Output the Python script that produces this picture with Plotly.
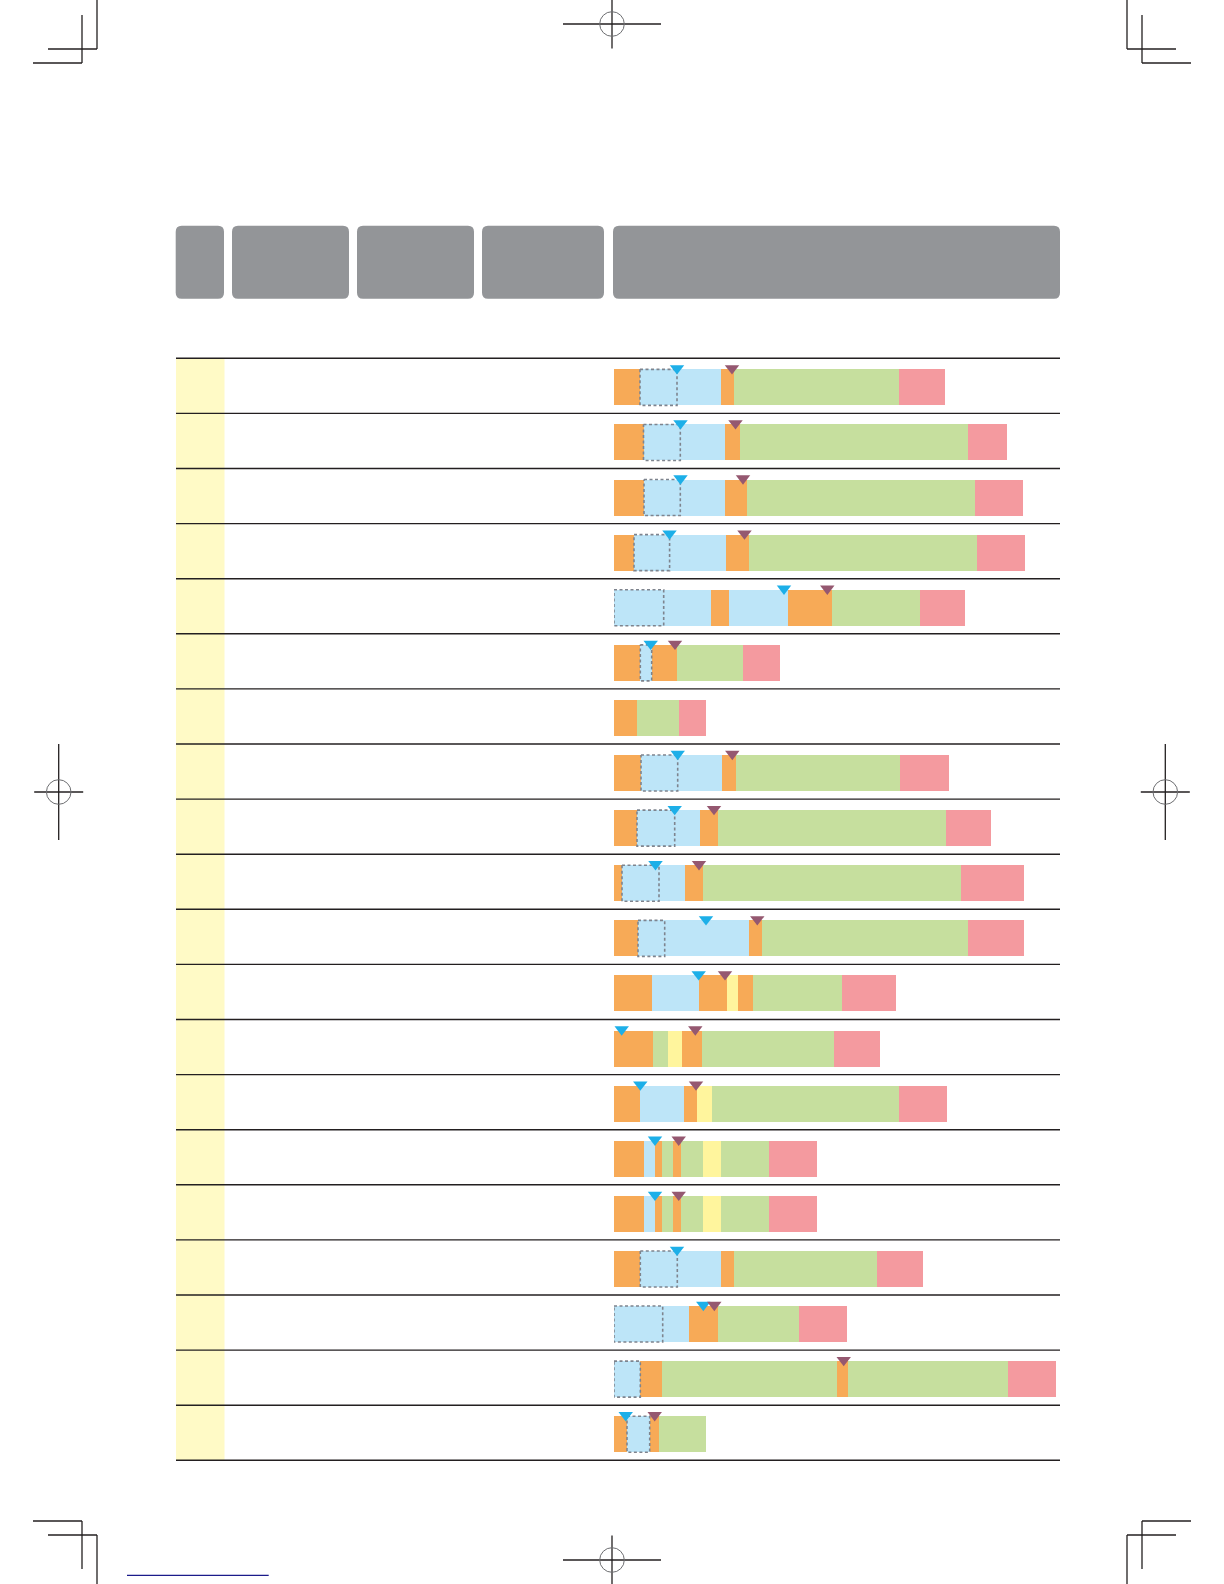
import plotly.graph_objects as go

W, H = 1224, 1584

# ---------------- data ----------------
rows = [f"Row {i + 1}" for i in range(20)]

COLORS = {"O": "#F7AA57", "B": "#BDE5F8", "G": "#C6DF9E", "R": "#F49A9F", "Y": "#FFF59D"}

row_segments = [
    "OBOGR", "OBOGR", "OBOGR", "OBOGR", "BOBOGR", "OBOGR", "OGR", "OBOGR", "OBOGR", "OBOGR",
    "OBOGR", "OBOYOGR", "OGYOGR", "OBOYGR", "OBOGOGYGR", "OBOGOGYGR", "OBOGR", "BOGR", "BOGOGR", "OBOG",
]
row_durations = [
    [26, 80.5, 13.5, 165, 46],
    [29.5, 81.5, 15, 228, 39],
    [30, 81, 22, 228, 48],
    [20, 92, 22.5, 228.5, 47.5],
    [97, 18, 59, 44, 88, 45],
    [26.3, 11.4, 25.6, 65.7, 37],
    [23, 42, 27],
    [27, 81, 13.5, 164.5, 49],
    [23, 63, 18, 228, 45],
    [8, 63, 18, 258, 62.7],
    [24, 111, 13, 206, 55.7],
    [38, 47, 28, 11, 15, 89, 53.7],
    [39, 15, 14, 20, 132, 45.7],
    [26, 44, 13, 15, 187, 48],
    [30, 11, 7, 11, 8, 22, 18, 48, 48],
    [30, 11, 7, 11, 8, 22, 18, 48, 48],
    [26.3, 80.7, 13, 143, 46],
    [75, 29, 81, 48],
    [26.3, 21.7, 175, 11, 160, 48],
    [13, 22.7, 9, 47.3],
]
dash_start = [26, 29.5, 30, 20, 0, 26.3, None, 27, 23, 8, 24, None, None, None, None, None, 26.3, 0, 0, 13]
dash_end = [63, 66.3, 66.3, 55.6, 49.7, 37.7, None, 63.7, 60.7, 45, 50.7, None, None, None, None, None, 63.3, 48.7, 26.3, 35.7]
blue_mark = [63, 66.5, 66.5, 55.5, 170, 36.7, None, 63.7, 60.7, 41.5, 92, 84.7, 7.7, 26.3, 41, 41, 63, 89.3, None, 11.7]
purple_mark = [118, 121.5, 129, 130.5, 213.3, 61, None, 118.3, 100, 85, 143.3, 111, 81.3, 82, 64.7, 64.7, None, 100.3, 229.7, 40.7]

# ---------------- layout helpers ----------------
def px(x):
    return x / W


def py(y):
    return 1 - y / H


LINE = "#231F20"
ROW_TOP, ROW_BOTTOM = 358.3, 1460.3
BAR_W = 0.653
idx = list(range(len(rows)))

fig = go.Figure()

# stacked segments
nseg = max(len(s) for s in row_segments)
for k in range(nseg):
    xs, cols = [], []
    for i in idx:
        if k < len(row_durations[i]):
            xs.append(row_durations[i][k])
            cols.append(COLORS[row_segments[i][k]])
        else:
            xs.append(0)
            cols.append("rgba(0,0,0,0)")
    fig.add_trace(go.Bar(
        y=idx, x=xs, orientation="h", width=BAR_W,
        marker=dict(color=cols, line=dict(width=0)),
        showlegend=False, hoverinfo="skip",
    ))

# dashed boxes
hw = BAR_W / 2
bx, by = [], []
for i in idx:
    if dash_start[i] is None:
        continue
    s, e = dash_start[i], dash_end[i]
    bx += [s, e, e, s, s, None]
    by += [i - hw, i - hw, i + hw, i + hw, i - hw, None]
fig.add_trace(go.Scatter(
    x=bx, y=by, mode="lines",
    line=dict(color="#7E848E", width=1.6, dash="3px,2.5px"),
    showlegend=False, hoverinfo="skip",
))

# triangle markers
for marks, col in ((blue_mark, "#1DAFE8"), (purple_mark, "#955870")):
    mx = [m for m in marks if m is not None]
    my = [i - hw - 0.02 for i, m in zip(idx, marks) if m is not None]
    fig.add_trace(go.Scatter(
        x=mx, y=my, mode="markers",
        marker=dict(symbol="triangle-down", size=12.5, color=col, line=dict(width=0)),
        showlegend=False, hoverinfo="skip",
    ))

shapes = []


def line(x0, y0, x1, y1, color=LINE, width=1.3):
    shapes.append(dict(type="line", xref="paper", yref="paper",
                       x0=px(x0), y0=py(y0), x1=px(x1), y1=py(y1),
                       line=dict(color=color, width=width), layer="above"))


def rrect(x0, y0, x1, y1, r, color):
    pts = [
        ("M", (x0 + r, y0)), ("L", (x1 - r, y0)), ("Q", (x1, y0), (x1, y0 + r)),
        ("L", (x1, y1 - r)), ("Q", (x1, y1), (x1 - r, y1)), ("L", (x0 + r, y1)),
        ("Q", (x0, y1), (x0, y1 - r)), ("L", (x0, y0 + r)), ("Q", (x0, y0), (x0 + r, y0)),
    ]
    path = ""
    for cmd, *ps in pts:
        path += cmd + " ".join(f"{px(a):.6f},{py(b):.6f}" for a, b in ps) + " "
    path += "Z"
    shapes.append(dict(type="path", xref="paper", yref="paper", path=path,
                       fillcolor=color, line=dict(width=0), layer="below"))


# header boxes
for x0, x1 in ((175.7, 224), (232, 349), (357, 474), (482, 604), (613, 1060)):
    rrect(x0, 225.7, x1, 298.7, 6, "#939598")

# yellow first column + row separators
row_h = (ROW_BOTTOM - ROW_TOP) / len(rows)
shapes.append(dict(type="rect", xref="paper", yref="paper",
                   x0=px(176), x1=px(224.5), y0=py(ROW_TOP), y1=py(ROW_BOTTOM),
                   fillcolor="#FFFAC6", line=dict(width=0), layer="below"))
for k in range(len(rows) + 1):
    yy = ROW_TOP + k * row_h
    line(176, yy, 1060, yy, width=1.4)

# crop marks
for (vx, vy0, vy1, hy, hx0, hx1) in (
    (97, 0, 49, 49, 48, 97), (82, 15, 63, 63, 33, 82),
    (1127, 0, 49, 49, 1127, 1176), (1142, 15, 63, 63, 1142, 1191),
    (97, 1535, 1584, 1535, 48, 97), (82, 1521, 1569, 1521, 33, 82),
    (1127, 1535, 1584, 1535, 1127, 1176), (1142, 1521, 1569, 1521, 1142, 1191),
):
    line(vx, vy0, vx, vy1)
    line(hx0, hy, hx1, hy)

# registration marks
for cx, cy, horiz in ((612, 24, True), (612, 1560, True), (58.7, 792, False), (1165.3, 792, False)):
    if horiz:
        line(cx - 49, cy, cx + 49, cy)
        line(cx, cy - 24.5, cx, cy + 24.5)
    else:
        line(cx - 24.5, cy, cx + 24.5, cy)
        line(cx, cy - 48, cx, cy + 48)
    shapes.append(dict(type="circle", xref="paper", yref="paper",
                       x0=px(cx - 12.3), x1=px(cx + 12.3), y0=py(cy - 12.3), y1=py(cy + 12.3),
                       line=dict(color="#6D6E71", width=1), layer="above"))

# link underline at the bottom
line(127, 1575.3, 268.7, 1575.3, color="#1B1B8A", width=1.2)

fig.update_layout(
    width=W, height=H,
    margin=dict(l=0, r=0, t=0, b=0),
    paper_bgcolor="white", plot_bgcolor="rgba(0,0,0,0)",
    barmode="stack",
    showlegend=False,
    shapes=shapes,
    xaxis=dict(domain=[px(614), px(1060)], range=[0, 446], visible=False, fixedrange=True),
    yaxis=dict(domain=[py(ROW_BOTTOM + 1.5), py(ROW_TOP + 1.5)], range=[len(rows) - 0.5, -0.5],
               visible=False, fixedrange=True),
)

fig.write_html("out.html", config={"displayModeBar": False},
               post_script="document.body.style.margin='0';")
